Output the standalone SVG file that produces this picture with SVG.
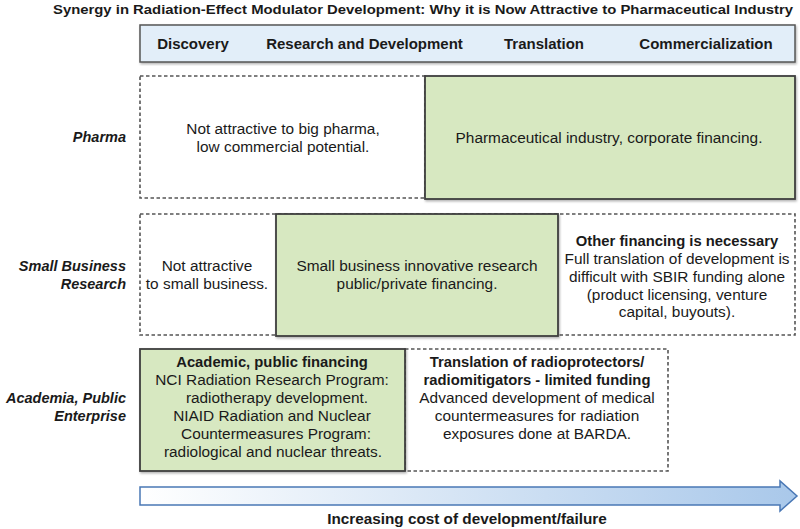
<svg xmlns="http://www.w3.org/2000/svg" width="800" height="529" viewBox="0 0 800 529">
<defs>
<style>
text{font-family:"Liberation Sans",Arial,sans-serif;fill:#1a1a1a;}
.t{font-size:13px;font-weight:bold;}
.h{font-size:15px;font-weight:bold;}
.lab{font-size:14.5px;font-weight:bold;font-style:italic;text-anchor:end;}
.b{font-size:15.4px;text-anchor:middle;}
.bb{font-size:14.8px;font-weight:bold;text-anchor:middle;}
.dash{fill:#fff;stroke:#555;stroke-width:1.6;stroke-dasharray:3.5 2.5;}
.green{fill:#d7e8c1;stroke:#3f3f3f;stroke-width:1.8;}
.hdr{fill:#e2eef9;stroke:#555;stroke-width:1.5;}
</style>
<linearGradient id="ag" x1="0" y1="0" x2="1" y2="0">
<stop offset="0" stop-color="#ffffff"/>
<stop offset="1" stop-color="#a9c8ea"/>
</linearGradient>
<filter id="sh" x="-5%" y="-5%" width="110%" height="115%">
<feDropShadow dx="1" dy="1.5" stdDeviation="1" flood-color="#000" flood-opacity="0.3"/>
</filter>
</defs>
<rect width="800" height="529" fill="#fff"/>
<text class="t" x="423" y="14" text-anchor="middle" textLength="740" lengthAdjust="spacingAndGlyphs">Synergy in Radiation-Effect Modulator Development: Why it is Now Attractive to Pharmaceutical Industry</text>

<g id="header">
<rect class="hdr" x="140" y="25" width="655" height="37" filter="url(#sh)"/>
<text class="h" x="193" y="49" text-anchor="middle">Discovery</text>
<text class="h" x="364.5" y="49" text-anchor="middle">Research and Development</text>
<text class="h" x="544" y="49" text-anchor="middle">Translation</text>
<text class="h" x="706" y="49" text-anchor="middle">Commercialization</text>
</g>

<g id="row-labels">
<text class="lab" x="126" y="142">Pharma</text>
<text class="lab" x="126" y="271">Small Business</text>
<text class="lab" x="126" y="289">Research</text>
<text class="lab" x="126" y="403">Academia, Public</text>
<text class="lab" x="126" y="421">Enterprise</text>
</g>

<g id="pharma-not-attractive">
<rect class="dash" x="140" y="76" width="285" height="122"/>
<text class="b" x="283" y="134">Not attractive to big pharma,</text>
<text class="b" x="283" y="152">low commercial potential.</text>
</g>
<g id="pharma-industry">
<rect class="green" x="425" y="76" width="370" height="123" filter="url(#sh)"/>
<text class="b" x="609" y="143">Pharmaceutical industry, corporate financing.</text>
</g>

<g id="sb-outer">
<rect class="dash" x="140" y="214" width="655" height="121"/>
<text class="b" x="207" y="271">Not attractive</text>
<text class="b" x="207" y="289">to small business.</text>
</g>
<g id="sb-other">
<text class="bb" x="677" y="246">Other financing is necessary</text>
<text class="b" x="677" y="264">Full translation of development is</text>
<text class="b" x="677" y="282">difficult with SBIR funding alone</text>
<text class="b" x="677" y="300">(product licensing, venture</text>
<text class="b" x="677" y="317">capital, buyouts).</text>
</g>
<g id="sb-innovative">
<rect class="green" x="276" y="214" width="282" height="122" filter="url(#sh)"/>
<text class="b" x="417" y="271">Small business innovative research</text>
<text class="b" x="417" y="289">public/private financing.</text>
</g>

<g id="ac-translation">
<rect class="dash" x="405" y="349" width="263" height="122"/>
<text class="bb" x="537" y="367">Translation of radioprotectors/</text>
<text class="bb" x="537" y="385">radiomitigators - limited funding</text>
<text class="b" x="537" y="403">Advanced development of medical</text>
<text class="b" x="537" y="421">countermeasures for radiation</text>
<text class="b" x="537" y="439">exposures done at BARDA.</text>
</g>
<g id="ac-academic">
<rect class="green" x="140" y="349" width="265" height="122" filter="url(#sh)"/>
<text class="bb" x="272" y="367">Academic, public financing</text>
<text class="b" x="272" y="385">NCI Radiation Research Program:</text>
<text class="b" x="277" y="403">radiotherapy development.</text>
<text class="b" x="272" y="421">NIAID Radiation and Nuclear</text>
<text class="b" x="276" y="439">Countermeasures Program:</text>
<text class="b" x="273" y="457">radiological and nuclear threats.</text>
</g>

<g id="connectors">
<path d="M140,487 L780,487 L780,481 L797,496 L780,511 L780,505 L140,505 Z" fill="url(#ag)" stroke="#4a78b5" stroke-width="1.5" stroke-linejoin="miter"/>
</g>
<text class="bb" x="467" y="524" style="font-size:15.3px">Increasing cost of development/failure</text>
</svg>
